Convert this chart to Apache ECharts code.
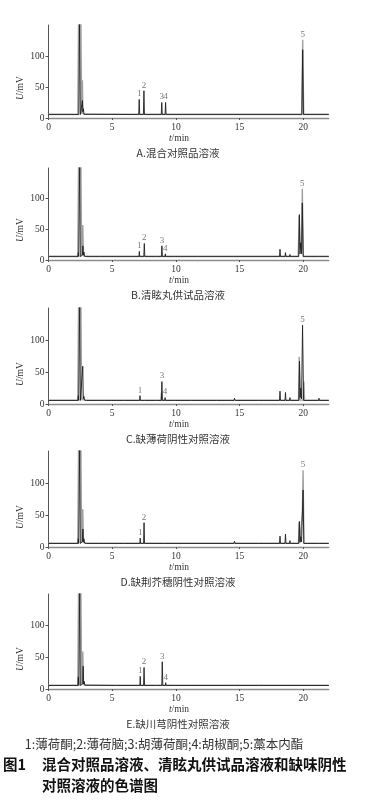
<!DOCTYPE html>
<html><head><meta charset="utf-8">
<script src="https://cdn.jsdelivr.net/npm/echarts@6/dist/echarts.min.js"></script>
<style>html,body{margin:0;padding:0;background:#fff}#c{width:365px;height:800px}</style>
</head><body><div id="c"></div>
<script>
// ---- data (time in min, signal in mV) ----
const xTicks = [0, 5, 10, 15, 20];
const yTicks = [0, 50, 100];
const captions = ['A.混合对照品溶液', 'B.清眩丸供试品溶液', 'C.缺薄荷阴性对照溶液', 'D.缺荆芥穗阴性对照溶液', 'E.缺川芎阴性对照溶液'];
const footnote = '1:薄荷酮;2:薄荷脑;3:胡薄荷酮;4:胡椒酮;5:藁本内酯';
const titleNo = '图1';
const titleLine1 = '混合对照品溶液、清眩丸供试品溶液和缺味阴性';
const titleLine2 = '对照溶液的色谱图';

const grayA = [[0,6],[2.3,6],[2.36,160],[2.54,160],[2.6,7],[2.62,7],[2.66,61],[2.7,7],[2.9,6],[19.87,6],[19.95,126],[20.03,6],[22,6]];
const blackA = [[0,5.5],[2.38,5.5],[2.44,160],[2.5,5.5],[2.55,8],[2.62,8],[2.66,28],[2.7,10],[2.74,15],[2.78,6],[2.9,5.5],[7.08,5.5],[7.12,30],[7.16,5.5],[7.45,5.5],[7.49,44],[7.53,5.5],[8.85,5.5],[8.89,25],[8.93,5.5],[9.15,5.5],[9.19,25],[9.23,5.5],[19.89,5.5],[19.95,110],[20.01,5.5],[22,5.5]];
const labelsA = [['1',7.12,30],['2',7.49,44],['3',8.89,25],['4',9.19,25],['5',19.95,126]];

const grayB = [[0,6],[2.3,6],[2.36,160],[2.54,160],[2.6,7],[2.64,7],[2.69,57],[2.74,7],[2.9,6],[19.6,6],[19.68,72],[19.74,20],[19.8,28],[19.86,15],[19.92,116],[20.0,6],[22,6]];
const blackB = [[0,5.5],[2.3,5.5],[2.34,12],[2.37,5.5],[2.4,5.5],[2.45,160],[2.5,5.5],[2.56,8],[2.66,8],[2.7,23],[2.74,8],[2.78,13],[2.84,6],[3.0,5.5],[4.0,5.5],[4.03,7],[4.06,5.5],[7.1,5.5],[7.13,14],[7.16,5.5],[7.48,5.5],[7.52,27],[7.56,5.5],[8.4,5.5],[8.43,7],[8.46,5.5],[8.86,5.5],[8.9,23],[8.94,5.5],[9.14,5.5],[9.17,10],[9.2,5.5],[9.9,5.5],[9.93,7],[9.96,5.5],[10.4,5.5],[10.43,6.5],[10.46,5.5],[11.7,5.5],[11.73,7.5],[11.76,5.5],[14.55,5.5],[14.6,8],[14.65,5.5],[18.13,5.5],[18.17,17.5],[18.21,5.5],[18.56,5.5],[18.6,12],[18.64,5.5],[18.92,5.5],[18.95,9],[18.98,5.5],[19.64,5.5],[19.69,74],[19.74,10],[19.8,28],[19.86,10],[19.92,93],[19.99,5.5],[21.2,5.5],[21.23,8],[21.26,5.5],[22,5.5]];
const labelsB = [['1',7.13,14],['2',7.52,27],['3',8.9,23],['4',9.17,10],['5',19.92,116]];

const grayC = [[0,6],[2.3,6],[2.36,160],[2.54,160],[2.6,7],[2.9,6],[8.82,6],[8.86,18],[8.9,6],[19.62,6],[19.68,74],[19.74,6],[19.98,6],[20.04,35],[20.1,6],[22,6]];
const blackC = [[0,5.5],[2.3,5.5],[2.34,13],[2.37,5.5],[2.4,5.5],[2.45,160],[2.5,5.5],[2.56,8],[2.65,8],[2.69,59],[2.73,8],[2.78,12],[2.83,6],[3.0,5.5],[3.95,5.5],[3.98,8],[4.01,5.5],[4.37,5.5],[4.4,8],[4.43,5.5],[4.97,5.5],[5.0,7],[5.03,5.5],[5.3,5.5],[5.33,7],[5.36,5.5],[5.9,5.5],[5.93,7],[5.96,5.5],[7.15,5.5],[7.18,13],[7.21,5.5],[7.55,5.5],[7.6,7],[7.65,5.5],[8.4,5.5],[8.43,7],[8.46,5.5],[8.86,5.5],[8.9,35],[8.94,5.5],[9.12,5.5],[9.15,10],[9.18,5.5],[9.87,5.5],[9.9,8],[9.93,5.5],[10.4,5.5],[10.43,7],[10.46,5.5],[11.2,5.5],[11.23,6.5],[11.26,5.5],[13.2,5.5],[13.23,6.5],[13.26,5.5],[14.0,5.5],[14.03,6.5],[14.06,5.5],[14.55,5.5],[14.6,9],[14.65,5.5],[16.5,5.5],[16.53,6.5],[16.56,5.5],[18.13,5.5],[18.17,20],[18.21,5.5],[18.56,5.5],[18.6,18],[18.64,5.5],[18.92,5.5],[18.95,10],[18.98,5.5],[19.65,5.5],[19.7,67],[19.75,10],[19.8,25],[19.86,8],[19.94,123],[20.02,5.5],[21.2,5.5],[21.23,9],[21.26,5.5],[22,5.5]];
const labelsC = [['1',7.18,13],['3',8.9,35],['4',9.15,10],['5',19.94,123]];

const grayD = [[0,6],[2.3,6],[2.36,160],[2.54,160],[2.6,7],[2.64,7],[2.69,59],[2.74,7],[2.9,6],[19.62,6],[19.68,38],[19.74,6],[19.88,6],[19.93,56],[19.98,120],[20.05,6],[22,6]];
const blackD = [[0,5.5],[2.3,5.5],[2.34,13],[2.37,5.5],[2.4,5.5],[2.45,160],[2.5,5.5],[2.56,8],[2.66,8],[2.7,28],[2.74,8],[2.78,13],[2.84,6],[3.0,5.5],[3.95,5.5],[3.98,7],[4.01,5.5],[5.9,5.5],[5.93,6.5],[5.96,5.5],[7.17,5.5],[7.2,14],[7.23,5.5],[7.46,5.5],[7.5,38],[7.54,5.5],[9.0,5.5],[9.03,6.5],[9.06,5.5],[10.4,5.5],[10.43,6.5],[10.46,5.5],[14.0,5.5],[14.03,7],[14.06,5.5],[14.55,5.5],[14.6,9],[14.65,5.5],[16.5,5.5],[16.53,6.5],[16.56,5.5],[18.13,5.5],[18.17,17],[18.21,5.5],[18.56,5.5],[18.6,20],[18.64,5.5],[18.92,5.5],[18.95,10],[18.98,5.5],[19.64,5.5],[19.69,40],[19.74,8],[19.8,16],[19.86,8],[19.98,89],[20.04,5.5],[21.2,5.5],[21.23,8],[21.26,5.5],[22,5.5]];
const labelsD = [['1',7.2,14],['2',7.5,38],['5',19.98,120]];

const grayE = [[0,6],[2.3,6],[2.36,160],[2.54,160],[2.6,7],[2.64,7],[2.69,59],[2.74,7],[2.9,6],[22,6]];
const blackE = [[0,5.5],[2.3,5.5],[2.34,19],[2.38,5.5],[2.4,5.5],[2.45,160],[2.5,5.5],[2.56,8],[2.68,8],[2.72,36],[2.76,8],[2.8,12],[2.85,6],[3.0,5.5],[5.27,5.5],[5.3,7],[5.33,5.5],[7.17,5.5],[7.2,20],[7.23,5.5],[7.46,5.5],[7.5,34],[7.54,5.5],[8.4,5.5],[8.43,6.5],[8.46,5.5],[8.89,5.5],[8.93,43],[8.97,5.5],[9.17,5.5],[9.2,10],[9.23,5.5],[9.87,5.5],[9.9,8],[9.93,5.5],[11.1,5.5],[11.13,6.5],[11.16,5.5],[14.0,5.5],[14.03,6.5],[14.06,5.5],[14.6,5.5],[14.63,6.5],[14.66,5.5],[16.5,5.5],[16.53,6.5],[16.56,5.5],[18.4,5.5],[18.43,6.5],[18.46,5.5],[22,5.5]];
const labelsE = [['1',7.2,20],['2',7.5,34],['3',8.93,43],['4',9.2,10]];

const grays = [grayA, grayB, grayC, grayD, grayE];
const blacks = [blackA, blackB, blackC, blackD, blackE];
const peakLabels = [labelsA, labelsB, labelsC, labelsD, labelsE];

// ---- layout ----
const tops = [25, 168, 308, 451, 594];
const heights = [93, 92, 96, 96, 95];
const LEFT = 48.5, PW = 280.3;
const serif = '"Liberation Serif","DejaVu Serif",serif';
const cjk = '"Noto Sans CJK SC","Noto Sans CJK JP",sans-serif';

const grid = [], xAxis = [], yAxis = [], series = [], graphic = [];
for (let i = 0; i < 5; i++) {
  grid.push({left: LEFT, top: tops[i], width: PW, height: heights[i]});
  xAxis.push({type: 'value', gridIndex: i, min: 0, max: 22,
    axisLine: {show: true, onZero: false, lineStyle: {color: '#8c8c8c', width: 1.4}},
    axisTick: {show: true, length: 2, customValues: xTicks, lineStyle: {color: '#555'}},
    axisLabel: {customValues: xTicks, margin: 4, fontSize: 9.5, color: '#333', fontFamily: serif},
    splitLine: {show: false}});
  yAxis.push({type: 'value', gridIndex: i, min: 0, max: 150,
    axisLine: {show: true, lineStyle: {color: '#555', width: 1}},
    axisTick: {show: true, length: 3, customValues: yTicks, lineStyle: {color: '#555'}},
    axisLabel: {customValues: yTicks, margin: 4, fontSize: 9.5, color: '#333', fontFamily: serif},
    splitLine: {show: false}});
  series.push({type: 'line', xAxisIndex: i, yAxisIndex: i, data: grays[i], showSymbol: false, clip: true,
    lineStyle: {color: '#a0a0a0', width: 1.4}, z: 2, animation: false});
  series.push({type: 'line', xAxisIndex: i, yAxisIndex: i, data: blacks[i], showSymbol: false, clip: true,
    lineStyle: {color: '#1e1e1e', width: 0.9}, z: 3, animation: false});
  series.push({type: 'scatter', xAxisIndex: i, yAxisIndex: i, symbolSize: 0, animation: false, z: 4,
    data: peakLabels[i].map(d => ({name: d[0], value: [d[1], d[2]]})),
    label: {show: true, position: 'top', distance: 1, formatter: '{b}', fontSize: 9, color: '#555', fontFamily: serif}});
  const zeroY = tops[i] + heights[i];
  graphic.push({type: 'text', x: 20.5, y: zeroY - 30, rotation: Math.PI / 2,
    style: {text: '{i|U}/mV', fontSize: 9.5, fontFamily: serif, fill: '#333', align: 'center', verticalAlign: 'middle',
      rich: {i: {fontStyle: 'italic', fontSize: 9.5, fontFamily: serif, fill: '#333'}}}});
  graphic.push({type: 'text', x: 179, y: zeroY + 20,
    style: {text: '{i|t}/min', fontSize: 9.5, fontFamily: serif, fill: '#333', align: 'center', verticalAlign: 'middle',
      rich: {i: {fontStyle: 'italic', fontSize: 9.5, fontFamily: serif, fill: '#333'}}}});
  graphic.push({type: 'text', x: 178, y: zeroY + 35,
    style: {text: captions[i], fontSize: 10.5, fontFamily: cjk, fill: '#333', align: 'center', verticalAlign: 'middle'}});
}
graphic.push({type: 'text', x: 164, y: 744, style: {text: footnote, fontSize: 12.5, fontFamily: cjk, fill: '#333', align: 'center', verticalAlign: 'middle'}});
graphic.push({type: 'text', x: 3, y: 764, style: {text: titleNo, fontSize: 14.5, fontWeight: 'bold', fontFamily: cjk, fill: '#111', align: 'left', verticalAlign: 'middle'}});
graphic.push({type: 'text', x: 42, y: 764, style: {text: titleLine1, fontSize: 14.5, fontWeight: 'bold', fontFamily: cjk, fill: '#111', align: 'left', verticalAlign: 'middle'}});
graphic.push({type: 'text', x: 42, y: 785, style: {text: titleLine2, fontSize: 14.5, fontWeight: 'bold', fontFamily: cjk, fill: '#111', align: 'left', verticalAlign: 'middle'}});

const chart = echarts.init(document.getElementById('c'), null, {renderer: 'canvas'});
chart.setOption({animation: false, grid, xAxis, yAxis, series, graphic});
</script></body></html>
